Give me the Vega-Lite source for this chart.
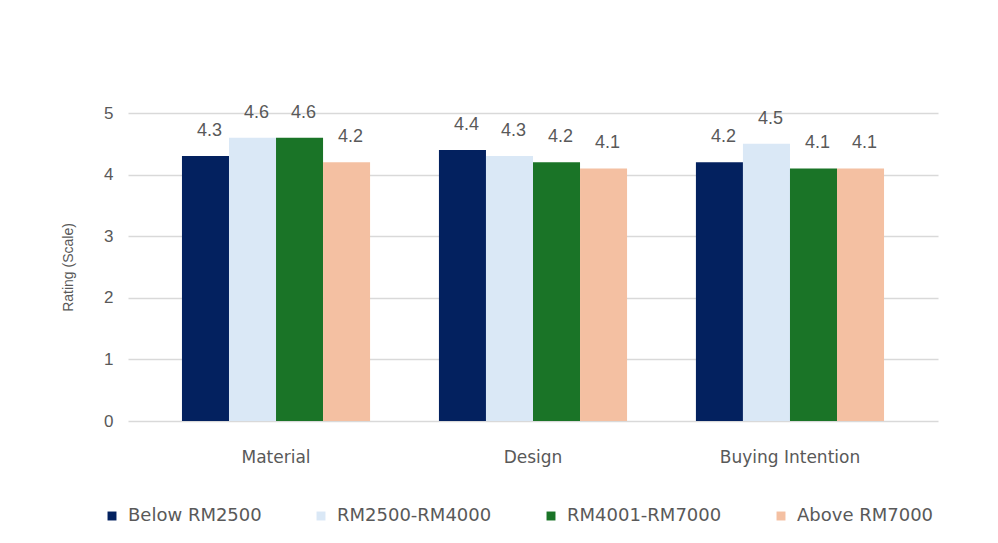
{
  "$schema": "https://vega.github.io/schema/vega-lite/v6.json",
  "width": 810,
  "height": 308,
  "autosize": "none",
  "padding": {"left": 128, "top": 113, "right": 60, "bottom": 122},
  "background": "white",
  "data": {
    "values": [
      {"category": "Material", "group": "Below RM2500", "rating": 4.3},
      {"category": "Material", "group": "RM2500-RM4000", "rating": 4.6},
      {"category": "Material", "group": "RM4001-RM7000", "rating": 4.6},
      {"category": "Material", "group": "Above RM7000", "rating": 4.2},
      {"category": "Design", "group": "Below RM2500", "rating": 4.4},
      {"category": "Design", "group": "RM2500-RM4000", "rating": 4.3},
      {"category": "Design", "group": "RM4001-RM7000", "rating": 4.2},
      {"category": "Design", "group": "Above RM7000", "rating": 4.1},
      {"category": "Buying Intention", "group": "Below RM2500", "rating": 4.2},
      {"category": "Buying Intention", "group": "RM2500-RM4000", "rating": 4.5},
      {"category": "Buying Intention", "group": "RM4001-RM7000", "rating": 4.1},
      {"category": "Buying Intention", "group": "Above RM7000", "rating": 4.1}
    ]
  },
  "encoding": {
    "x": {
      "field": "category",
      "type": "nominal",
      "sort": ["Material", "Design", "Buying Intention"],
      "scale": {"paddingInner": 0.268, "paddingOuter": 0.21},
      "axis": {
        "title": null,
        "labelAngle": 0,
        "ticks": false,
        "domain": false,
        "labelPadding": 28,
        "labelFont": "DejaVu Sans",
        "labelFontSize": 17,
        "labelColor": "#595959"
      }
    },
    "xOffset": {
      "field": "group",
      "type": "nominal",
      "sort": ["Below RM2500", "RM2500-RM4000", "RM4001-RM7000", "Above RM7000"],
      "scale": {"paddingInner": 0, "paddingOuter": 0}
    },
    "y": {
      "field": "rating",
      "type": "quantitative",
      "scale": {"domain": [0, 5], "nice": false},
      "axis": {
        "title": "Rating (Scale)",
        "values": [0, 1, 2, 3, 4, 5],
        "ticks": false,
        "domain": false,
        "grid": true,
        "gridColor": "#d9d9d9",
        "gridWidth": 1.5,
        "labelPadding": 15,
        "labelFont": "Liberation Sans",
        "labelFontSize": 17,
        "labelColor": "#595959",
        "titleFont": "Liberation Sans",
        "titleFontSize": 14,
        "titleFontWeight": "normal",
        "titleColor": "#595959",
        "titlePadding": 28
      }
    }
  },
  "layer": [
    {
      "mark": {"type": "bar"},
      "encoding": {
        "color": {
          "field": "group",
          "type": "nominal",
          "sort": ["Below RM2500", "RM2500-RM4000", "RM4001-RM7000", "Above RM7000"],
          "scale": {
            "domain": ["Below RM2500", "RM2500-RM4000", "RM4001-RM7000", "Above RM7000"],
            "range": ["#03215f", "#dae8f6", "#1a7427", "#f4c0a2"]
          },
          "legend": {
            "title": null,
            "orient": "none",
            "legendX": -25,
            "legendY": 394,
            "direction": "horizontal",
            "symbolType": "square",
            "symbolSize": 80,
            "symbolStrokeWidth": 0,
            "labelFont": "DejaVu Sans",
            "labelFontSize": 18,
            "labelColor": "#595959",
            "columnPadding": 50,
            "labelOffset": 7
          }
        }
      }
    },
    {
      "mark": {
        "type": "text",
        "baseline": "bottom",
        "dy": -16,
        "dx": 4,
        "font": "Liberation Sans",
        "fontSize": 18,
        "color": "#595959"
      },
      "encoding": {
        "text": {"field": "rating", "type": "quantitative", "format": ".1f"}
      }
    }
  ],
  "config": {
    "view": {"stroke": null}
  }
}
